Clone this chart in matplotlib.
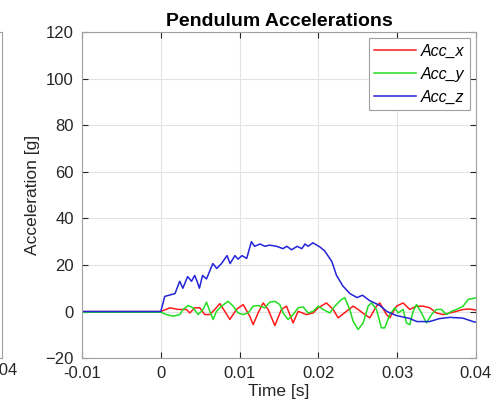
import numpy as np
import matplotlib.pyplot as plt

plt.rcParams['font.family'] = ['Liberation Sans', 'DejaVu Sans']

# time in ms
t_x = [-10, 0, 1.14, 2.20, 3.26, 3.68, 4.31, 4.95, 5.58, 6.22, 6.85, 7.49, 8.12, 8.76,
       9.60, 10.45, 11.29, 11.72, 12.35, 12.99, 13.62, 14.47, 15.31, 15.95, 16.79,
       17.43, 18.49, 19.33, 19.97, 21.02, 21.87, 22.50, 23.56, 24.41, 25.04, 25.89,
       26.52, 27.37, 27.79, 28.64, 29.06, 29.91, 30.75, 31.60, 32.44, 33.29, 34.14,
       34.98, 35.83, 36.68, 37.52, 38.37, 39.21, 40.0]
acc_x = [0, 0, 1.6, 0.9, 0.9, -0.6, 1.6, 1.6, -1.3, -1.3, 0.9, 3.4, 0.1, -3.4,
         0.9, 3.0, -2.0, -5.6, -0.6, 3.7, 0.9, -6.0, 0.9, 2.3, -4.9,
         0.1, -1.3, -0.6, 1.6, 3.7, 0.9, -2.7, 0.1, 2.3, 0.9, -1.3,
         -2.7, 2.3, 3.7, -1.3, -2.7, 2.3, 3.7, 0.9, 2.3, 2.3, 1.6,
         -0.6, -1.3, -0.6, 0.1, 0.9, 1.1, 0.6]

t_y = [-10, 0, 0.72, 1.57, 2.41, 2.83, 3.47, 4.10, 4.74, 5.37, 5.80, 6.22, 6.64, 7.06,
       7.70, 8.54, 9.18, 9.81, 10.45, 11.08, 11.72, 12.35, 13.20, 13.83, 14.47, 15.10,
       15.52, 16.16, 16.79, 17.43, 18.06, 18.70, 19.33, 19.97, 20.60, 21.45, 22.08,
       22.93, 23.35, 23.98, 24.41, 25.04, 25.68, 26.31, 26.73, 27.37, 28.00, 28.43,
       29.06, 29.70, 30.12, 30.75, 31.18, 31.60, 32.02, 32.45, 33.08, 33.71, 34.35,
       34.98, 35.62, 36.25, 36.89, 37.52, 38.37, 39.00, 40.0]
acc_y = [-0.3, -0.3, -1.3, -2.0, -1.3, 0.9, 2.6, 1.6, -1.3, 0.9, 4.0, 0.1, -3.4, 0.1,
         2.3, 4.4, 2.3, -0.6, -1.3, -0.6, 2.3, 2.6, 1.6, 4.0, 4.4, 3.0,
         -0.6, -3.4, -1.3, 1.6, 2.0, -0.6, 0.1, 2.3, 0.9, -0.6, 2.3,
         5.2, 5.9, 0.9, -4.2, -7.7, -4.9, 2.3, 3.7, 0.9, -7.0, -7.0,
         -1.3, 1.6, -0.6, 0.9, -4.9, -5.6, 0.1, 3.0, -0.6, -4.9, -1.3,
         0.9, 0.9, -1.3, 0.1, 0.9, 2.3, 5.2, 5.9]

t_z = [-10, 0, 0.5, 1.8, 2.4, 2.8, 3.4, 3.9, 4.3, 4.6, 4.9, 5.3, 5.8, 6.6, 7.1, 7.7,
       8.4, 8.8, 9.4, 9.8, 10.3, 10.9, 11.5, 11.9, 12.6, 13.2, 13.8, 14.7, 15.5,
       16.0, 16.6, 17.3, 17.9, 18.3, 18.7, 19.3, 20.2, 20.8, 21.7, 22.3, 23.1,
       24.0, 24.9, 25.6, 26.5, 27.8, 28.7, 29.9, 31.6, 32.5, 34.1, 35.4, 36.7,
       38.3, 39.8, 40.0]
acc_z = [0, 0, 6.5, 7.7, 13, 10, 15, 13, 15.5, 13, 10, 15.5, 14, 20.6, 18.5, 20.6,
         24, 20.6, 24, 22.5, 24, 22.8, 30, 28, 29, 28, 28.5, 28, 27,
         28, 26.5, 28, 27, 29, 28, 29.5, 27.7, 26, 21.5, 15.5, 11,
         7.7, 6, 7, 4.7, 2.6, 0, -1.7, -3, -4.3, -4.3, -3, -2.5,
         -2.8, -4.5, -4.5]

fig = plt.figure(figsize=(4.97, 4.15), dpi=100)

# leftover of the neighbouring subplot, cut off at the left edge
ax0 = fig.add_axes([-0.8, 0.137, 0.8 + 2 / 497, 0.786])
ax0.set_xlim(-0.01, 0.04)
ax0.set_ylim(-20, 120)
ax0.set_xticks([0.04])
ax0.set_xticklabels(['0.04'], fontsize=12, color='#262626')
ax0.set_yticks([])
ax0.tick_params(length=0)
for s in ax0.spines.values():
    s.set_color('#a0a0a0')

ax = fig.add_axes([82 / 497, 0.137, 394 / 497, 0.786])
ax.plot(np.array(t_x) / 1000, acc_x, color='#ff1a1a', lw=1.1, label='Acc_x')
ax.plot(np.array(t_y) / 1000, acc_y, color='#22dd22', lw=1.1, label='Acc_y')
ax.plot(np.array(t_z) / 1000, acc_z, color='#2323d8', lw=1.1, label='Acc_z')

ax.set_xlim(-0.01, 0.04)
ax.set_ylim(-20, 120)
ax.set_xticks([-0.01, 0, 0.01, 0.02, 0.03, 0.04])
ax.set_xticklabels(['-0.01', '0', '0.01', '0.02', '0.03', '0.04'])
ax.set_yticks(range(-20, 121, 20))
ax.tick_params(direction='in', top=True, right=True, labelsize=12,
               colors='#262626', length=4, pad=6)
for s in ax.spines.values():
    s.set_color('#a0a0a0')
ax.grid(color='#e3e3e3', lw=0.8)
ax.set_axisbelow(True)

ax.set_title('Pendulum Accelerations', fontsize=14, fontweight='bold', pad=4)
ax.set_xlabel('Time [s]', fontsize=12.5, color='#262626', labelpad=2)
ax.set_ylabel('Acceleration [g]', fontsize=12.5, color='#262626', labelpad=4)

leg = ax.legend(loc='upper right', prop={'style': 'italic', 'size': 11.5},
                fancybox=False, edgecolor='#a0a0a0', framealpha=1,
                handlelength=2.6, borderaxespad=0.4, labelspacing=0.5,
                handletextpad=0.3, borderpad=0.35)
leg.get_frame().set_linewidth(0.8)

fig.savefig('out.png', dpi=100)
